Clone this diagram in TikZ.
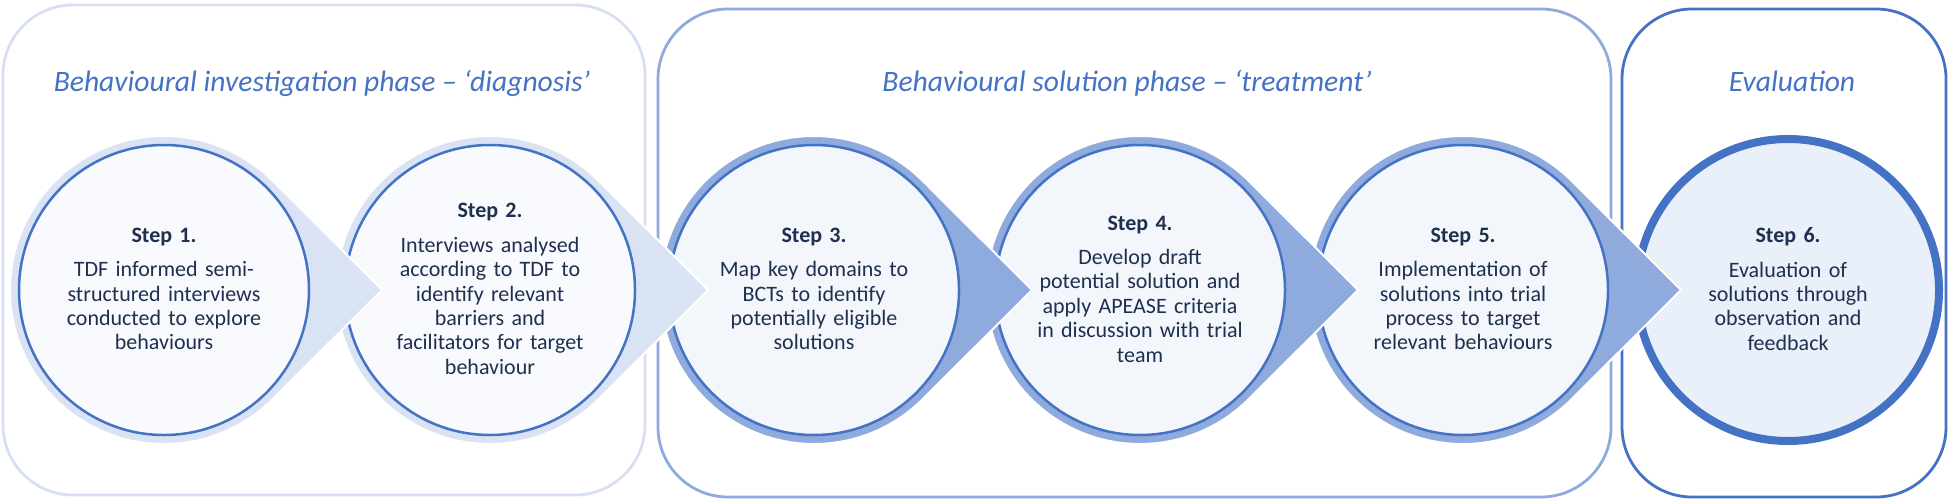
\documentclass[tikz,border=0pt]{standalone}
\usepackage{fontspec}
\setmainfont{Carlito}
\usepackage{tikz}

\definecolor{titleblue}{HTML}{4472C4}
\definecolor{stepink}{HTML}{1F2F4F}
\definecolor{boxone}{HTML}{D6E0F2}
\definecolor{boxtwo}{HTML}{8FAADC}
\definecolor{lightring}{HTML}{DAE3F3}
\definecolor{midring}{HTML}{8FAADC}
\definecolor{lightcore}{HTML}{F8FAFD}
\definecolor{midcore}{HTML}{F3F6FB}
\definecolor{lastcore}{HTML}{EAF0F9}

\tikzset{
  phasebox/.style={rounded corners=35pt, line width=1.4pt},
  phasetitle/.style={anchor=base, text=titleblue, font=\fontsize{14.8}{18}\selectfont\itshape},
  steptext/.style={align=center, text width=140pt, text=stepink, font=\fontsize{11}{12.2}\selectfont},
  ringshape/.style={draw=white, line width=1pt},
  corecircle/.style={draw=titleblue, line width=1.25pt},
}

\begin{document}
\begin{tikzpicture}[x=0.5pt, y=0.5pt]
        \useasboundingbox (0,0) rectangle (1952,500);
        % phase boxes
        \draw[phasebox, draw=boxone] (3,5) rectangle (645,495);
        \draw[phasebox, draw=boxtwo] (658,3) rectangle (1611,491);
        \draw[phasebox, draw=titleblue] (1622,3) rectangle (1946,491);
        \node[phasetitle] (t1) at (322,409) {Behavioural investigation phase -- ‘diagnosis’};
        \node[phasetitle] (t2) at (1127,409) {Behavioural solution phase -- ‘treatment’};
        \node[phasetitle] (t3) at (1792,409) {Evaluation};
        % last step has no arrow
        \filldraw[fill=lastcore, draw=titleblue, line width=4pt] (1788,210) circle[radius=151];
        % steps drawn right to left so each tip lies on the next circle
        \foreach \cx/\ring/\core in {1463/midring/midcore, 1140/midring/midcore, 814/midring/midcore,
                                     490/lightring/lightcore, 164/lightring/lightcore} {
          \filldraw[ringshape, fill=\ring] (\cx,210) ++(45:154)
            arc[start angle=45, end angle=315, radius=154] -- (\cx+218,210) -- cycle;
          \filldraw[corecircle, fill=\core] (\cx,210) circle[radius=145];
        }
        \node[steptext] (s1) at (164,211) {\textbf{Step 1.}\\[5pt]TDF informed semi-\\structured interviews\\conducted to explore\\behaviours};
        \node[steptext] (s2) at (490,211) {\textbf{Step 2.}\\[5pt]Interviews analysed\\according to TDF to\\identify relevant\\barriers and\\facilitators for target\\behaviour};
        \node[steptext] (s3) at (814,211) {\textbf{Step 3.}\\[5pt]Map key domains to\\BCTs to identify\\potentially eligible\\solutions};
        \node[steptext] (s4) at (1140,211) {\textbf{Step 4.}\\[5pt]Develop draft\\potential solution and\\apply APEASE criteria\\in discussion with trial\\team};
        \node[steptext] (s5) at (1463,211) {\textbf{Step 5.}\\[5pt]Implementation of\\solutions into trial\\process to target\\relevant behaviours};
        \node[steptext] (s6) at (1788,211) {\textbf{Step 6.}\\[5pt]Evaluation of\\solutions through\\observation and\\feedback};
      \end{tikzpicture}
\end{document}
